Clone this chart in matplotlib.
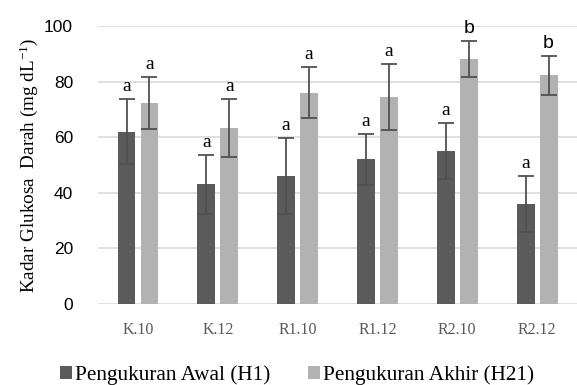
import matplotlib.pyplot as plt
from matplotlib.font_manager import FontProperties
import numpy as np

groups = ['K.10', 'K.12', 'R1.10', 'R1.12', 'R2.10', 'R2.12']
awal = [62.0, 43.0, 46.0, 52.0, 55.0, 36.0]
awal_err = [11.7, 10.5, 13.7, 9.2, 10.2, 10.0]
akhir = [72.3, 63.3, 76.0, 74.4, 88.2, 82.2]
akhir_err = [9.2, 10.4, 9.2, 11.8, 6.5, 6.9]
awal_notasi = ['a', 'a', 'a', 'a', 'a', 'a']
akhir_notasi = ['a', 'a', 'a', 'a', 'b', 'b']

serif = 'Liberation Serif'
sans = 'Liberation Sans'
plt.rcParams['font.family'] = [serif, 'DejaVu Serif']
plt.rcParams['mathtext.fontset'] = 'custom'
plt.rcParams['mathtext.rm'] = serif
plt.rcParams['mathtext.it'] = serif + ':italic'
plt.rcParams['mathtext.bf'] = serif + ':bold'

fig = plt.figure(figsize=(5.77, 3.85), dpi=100)
ax = fig.add_axes([0.170, 0.2104, 0.830, 0.7221])

x = np.arange(len(groups))
off = 0.144
w = 0.225
c_dark = '#5b5b5b'
c_light = '#b2b2b2'
c_err = '#505050'

b1 = ax.bar(x - off, awal, w, color=c_dark, zorder=2, label='Pengukuran Awal (H1)')
b2 = ax.bar(x + off, akhir, w, color=c_light, zorder=2, label='Pengukuran Akhir (H21)')
ax.errorbar(x - off, awal, yerr=awal_err, fmt='none', ecolor=c_err,
            elinewidth=1.3, capsize=6, capthick=1.3, zorder=3)
ax.errorbar(x + off, akhir, yerr=akhir_err, fmt='none', ecolor=c_err,
            elinewidth=1.3, capsize=6, capthick=1.3, zorder=3)

# huruf notasi di atas error bar
for i in range(len(groups)):
    for xs, v, e, t in [(x[i] - off, awal[i], awal_err[i], awal_notasi[i]),
                        (x[i] + off, akhir[i], akhir_err[i], akhir_notasi[i])]:
        fam = sans if t == 'b' else serif
        ax.text(xs, v + e + 1.5, t, ha='center', va='bottom',
                fontsize=14, family=fam, color='black')

ax.set_xlim(-0.5, 5.5)
ax.set_ylim(0, 100)
ax.set_yticks([0, 20, 40, 60, 80, 100])
ax.set_xticks(x)
ax.set_xticklabels(groups, family=serif, fontsize=11.5, color='#595959')
for lb in ax.get_yticklabels():
    lb.set_family(sans)
    lb.set_fontsize(12.5)
ax.tick_params(axis='both', length=0)
ax.tick_params(axis='y', pad=18)
ax.tick_params(axis='x', pad=13)
ax.grid(axis='y', color='#d9d9d9', linewidth=1.2, zorder=0)
ax.set_axisbelow(True)
for s in ax.spines.values():
    s.set_visible(False)

ax.set_ylabel('Kadar Glukosa  Darah (mg dL$^{-1}$)', family=serif, fontsize=13.8, labelpad=3)

fig.legend(handles=[b1, b2], loc='lower center', bbox_to_anchor=(0.515, -0.05), ncol=2,
           frameon=False, prop=FontProperties(family=serif, size=15.3),
           handlelength=0.55, handleheight=0.55, handletextpad=0.15, columnspacing=1.8)

fig.savefig('out.png', dpi=100)
